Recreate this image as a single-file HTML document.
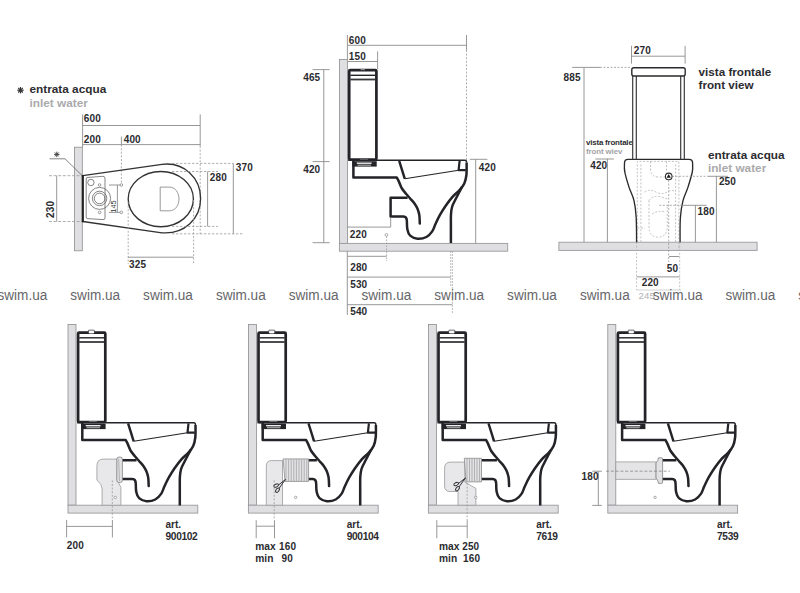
<!DOCTYPE html>
<html><head><meta charset="utf-8"><title>Toilet technical drawing</title>
<style>
html,body{margin:0;padding:0;background:#fff;}
body{width:800px;height:593px;overflow:hidden;}
svg{display:block;font-family:"Liberation Sans",sans-serif;}
</style></head>
<body>
<svg width="800" height="593" viewBox="0 0 800 593">
<defs><g id="toilet">
<rect x="349.2" y="70.2" width="27.2" height="89.3" rx="1" fill="#fff" stroke="#232328" stroke-width="2.7"/>
<line x1="350.3" y1="75.3" x2="375.3" y2="75.3" stroke="#232328" stroke-width="1.4"/>
<line x1="350.3" y1="79.5" x2="375.3" y2="79.5" stroke="#38383c" stroke-width="1.8"/>
<rect x="360" y="158.9" width="8" height="1" fill="#9a9a9a"/>
<rect x="352.3" y="161.2" width="24.4" height="5.4" fill="#232328"/>
<rect x="356.8" y="162.5" width="14.8" height="1.4" fill="#eeeeee"/>
<rect x="357.6" y="164.6" width="13.4" height="1.2" fill="#a4a4a4"/>
<path d="M348.2,160.3 H464.8 Q466.6,160.3 466.6,162.5" fill="none" stroke="#232328" stroke-width="1.5"/>
<path d="M353.4,160.6 V177.6 H396.8  C397.1,178.3 398.1,179.9 398.9,181.6 C399.7,183.3 400.5,186.0 401.6,188.0 C402.8,190.0 404.4,191.7 405.8,193.5 C407.2,195.3 408.9,197.1 410.3,198.7 C411.7,200.3 413.1,201.6 414.3,203.3 C415.5,205.0 416.7,206.9 417.5,208.8 C418.3,210.8 418.9,212.5 419.3,215.0 C419.7,217.5 419.7,222.2 419.8,223.6" fill="none" stroke="#232328" stroke-width="2.5" stroke-linecap="round" stroke-linejoin="round"/>
<path d="M407.6,197.7 H390.6 V216.4 H403.5 Q406.9,216.4 406.9,221.5  C407.0,222.8 406.8,227.1 407.4,229.4 C407.9,231.8 408.5,234.1 410.2,235.6 C411.9,237.1 414.9,238.5 417.6,238.7 C420.3,238.9 424.0,238.2 426.4,237.0 C428.8,235.8 430.7,233.6 432.2,231.4 C433.7,229.2 434.3,226.5 435.6,223.7 C436.9,220.9 438.4,217.7 440.1,214.7 C441.8,211.7 443.6,208.7 445.7,205.7 C447.8,202.7 450.2,199.4 452.5,196.8 C454.8,194.2 457.3,192.6 459.3,190.4 C461.3,188.2 463.1,186.0 464.3,183.4 C465.5,180.8 466.0,178.5 466.4,175.0 C466.8,171.5 466.6,164.6 466.6,162.5" fill="none" stroke="#232328" stroke-width="2.5" stroke-linejoin="round"/>
<path d="M462.0,186.8 C461.5,187.8 459.9,190.8 458.8,193.0 C457.7,195.2 456.3,197.8 455.2,200.0 C454.1,202.2 452.9,204.2 452.2,206.5 C451.5,208.8 451.2,211.1 451.0,214.0 C450.8,216.9 450.9,219.2 450.9,224.0 C450.9,228.8 450.9,239.8 450.9,243.0" fill="none" stroke="#232328" stroke-width="2.5"/>
<path d="M399.2,160.8 L404.8,178.8" fill="none" stroke="#232328" stroke-width="2.4"/>
<path d="M404.8,178.8 L458.6,170.2" fill="none" stroke="#232328" stroke-width="1.1"/>
<path d="M459.6,160.8 L458.6,170.2 H465.8" fill="none" stroke="#232328" stroke-width="2.2" stroke-linejoin="round"/>
</g></defs>
<rect width="800" height="593" fill="#fff"/>
<line x1="17.3" y1="90.2" x2="23.7" y2="90.2" stroke="#333" stroke-width="1.20" />
<line x1="18.2" y1="87.9" x2="22.8" y2="92.5" stroke="#333" stroke-width="1.20" />
<line x1="20.5" y1="87.0" x2="20.5" y2="93.4" stroke="#333" stroke-width="1.20" />
<line x1="22.8" y1="87.9" x2="18.2" y2="92.5" stroke="#333" stroke-width="1.20" />
<text x="29.5" y="93.2" font-size="11.80" fill="#2c2c30" font-weight="bold" letter-spacing="0.00" >entrata acqua</text>
<text x="29.5" y="106.9" font-size="11.80" fill="#aaaaac" font-weight="bold" letter-spacing="0.00" >inlet water</text>
<rect x="74.5" y="147.2" width="7.8" height="103.6" fill="#dfdfe2" stroke="#8e8e90" stroke-width="0.8"/>
<line x1="82.6" y1="114.4" x2="82.6" y2="147.2" stroke="#8c8c8c" stroke-width="0.90" />
<line x1="82.6" y1="125.5" x2="200.2" y2="125.5" stroke="#8c8c8c" stroke-width="0.90" />
<line x1="82.6" y1="144.6" x2="200.2" y2="144.6" stroke="#8c8c8c" stroke-width="0.90" />
<line x1="200.2" y1="114.4" x2="200.2" y2="146.0" stroke="#8c8c8c" stroke-width="0.90" />
<line x1="200.2" y1="146.0" x2="200.2" y2="234.0" stroke="#9a9a9a" stroke-width="0.80" stroke-dasharray="2 1.6" />
<text x="83.8" y="122.4" font-size="10.00" fill="#2b2b2f" font-weight="bold" letter-spacing="0.15" >600</text>
<text x="83.8" y="142.9" font-size="10.00" fill="#2b2b2f" font-weight="bold" letter-spacing="0.15" >200</text>
<text x="123.7" y="142.9" font-size="10.00" fill="#2b2b2f" font-weight="bold" letter-spacing="0.15" >400</text>
<line x1="121.4" y1="136.5" x2="121.4" y2="144.6" stroke="#8c8c8c" stroke-width="0.90" />
<line x1="121.4" y1="144.6" x2="121.4" y2="184.0" stroke="#9a9a9a" stroke-width="0.80" stroke-dasharray="2 1.6" />
<line x1="54.1" y1="154.4" x2="59.5" y2="154.4" stroke="#444" stroke-width="1.00" />
<line x1="54.9" y1="152.5" x2="58.7" y2="156.3" stroke="#444" stroke-width="1.00" />
<line x1="56.8" y1="151.7" x2="56.8" y2="157.1" stroke="#444" stroke-width="1.00" />
<line x1="58.7" y1="152.5" x2="54.9" y2="156.3" stroke="#444" stroke-width="1.00" />
<polyline points="49.5,158.8 65,158.8 82.2,175.6" fill="none" stroke="#666" stroke-width="0.8"/>
<line x1="49.0" y1="175.7" x2="82.0" y2="175.7" stroke="#9a9a9a" stroke-width="0.80" stroke-dasharray="3 1.6" />
<line x1="49.0" y1="221.5" x2="82.0" y2="221.5" stroke="#9a9a9a" stroke-width="0.80" stroke-dasharray="3 1.6" />
<line x1="56.7" y1="175.7" x2="56.7" y2="221.5" stroke="#8c8c8c" stroke-width="0.90" />
<text x="0.0" y="0.0" font-size="10.00" fill="#2b2b2f" font-weight="bold" letter-spacing="0.15" transform="translate(54.4,218) rotate(-90)">230</text>
<path d="M82.8,175.7 L162,164.3 C184,161.5 200.6,178 200.6,198.4 C200.6,219 184,234.5 162,232.8 L82.8,221.5" fill="none" stroke="#333" stroke-width="1.35"/>
<line x1="82.8" y1="175" x2="82.8" y2="222.2" stroke="#222" stroke-width="2.2"/>
<ellipse cx="160.8" cy="199.1" rx="32.6" ry="27.6" fill="none" stroke="#333" stroke-width="1.35"/>
<path d="M160.2,187.1 H169.5 C175.5,187.1 179,193 179,199 C179,205 175.5,210.8 169.5,210.8 H160.2 Z" fill="none" stroke="#8c8c8e" stroke-width="0.9"/>
<path d="M87,177.5 L103,176.3 Q105,176.3 105,178.3 V217.8 Q105,219.8 103,219.6 L87,218.6 Q86.2,218.5 86.2,217 V179 Q86.2,177.6 87,177.5 Z" fill="none" stroke="#666" stroke-width="0.8"/>
<circle cx="90.9" cy="182.5" r="3.2" fill="none" stroke="#666" stroke-width="0.8"/>
<circle cx="99.6" cy="198.4" r="11" fill="none" stroke="#666" stroke-width="0.8"/>
<circle cx="99.6" cy="198.4" r="7.2" fill="none" stroke="#666" stroke-width="0.8"/>
<circle cx="99.6" cy="198.4" r="5.3" fill="none" stroke="#666" stroke-width="0.8"/>
<circle cx="99.6" cy="185" r="1.3" fill="none" stroke="#777" stroke-width="0.7"/>
<circle cx="99.6" cy="212.4" r="1.3" fill="none" stroke="#777" stroke-width="0.7"/>
<line x1="109.0" y1="185.0" x2="120.0" y2="185.0" stroke="#8c8c8c" stroke-width="0.90" />
<line x1="109.0" y1="212.4" x2="120.0" y2="212.4" stroke="#8c8c8c" stroke-width="0.90" />
<line x1="117.4" y1="185.0" x2="117.4" y2="212.4" stroke="#8c8c8c" stroke-width="0.90" />
<circle cx="121.4" cy="185" r="1.3" fill="#fff" stroke="#777" stroke-width="0.7"/>
<circle cx="121.4" cy="212.4" r="1.3" fill="#fff" stroke="#777" stroke-width="0.7"/>
<text x="0.0" y="0.0" font-size="7.20" fill="#333" font-weight="normal" letter-spacing="0.00" transform="translate(116.2,212.5) rotate(-90)">145</text>
<line x1="172.0" y1="163.4" x2="233.3" y2="163.4" stroke="#9a9a9a" stroke-width="0.80" stroke-dasharray="2.4 1.6" />
<line x1="172.0" y1="171.5" x2="218.0" y2="171.5" stroke="#9a9a9a" stroke-width="0.80" stroke-dasharray="2.4 1.6" />
<line x1="172.0" y1="226.4" x2="218.0" y2="226.4" stroke="#9a9a9a" stroke-width="0.80" stroke-dasharray="2.4 1.6" />
<line x1="172.0" y1="233.8" x2="244.0" y2="233.8" stroke="#9a9a9a" stroke-width="0.80" stroke-dasharray="2.4 1.6" />
<line x1="207.6" y1="171.5" x2="207.6" y2="226.4" stroke="#8c8c8c" stroke-width="0.90" />
<line x1="233.3" y1="163.4" x2="233.3" y2="233.8" stroke="#8c8c8c" stroke-width="0.90" />
<text x="209.8" y="180.8" font-size="10.00" fill="#2b2b2f" font-weight="bold" letter-spacing="0.15" >280</text>
<text x="235.8" y="171.1" font-size="10.00" fill="#2b2b2f" font-weight="bold" letter-spacing="0.15" >370</text>
<line x1="128.2" y1="202.0" x2="128.2" y2="264.0" stroke="#9a9a9a" stroke-width="0.80" stroke-dasharray="2 1.6" />
<line x1="193.6" y1="200.0" x2="193.6" y2="264.0" stroke="#9a9a9a" stroke-width="0.80" stroke-dasharray="2 1.6" />
<line x1="128.2" y1="257.2" x2="193.6" y2="257.2" stroke="#8c8c8c" stroke-width="0.90" />
<text x="129.0" y="267.6" font-size="10.00" fill="#2b2b2f" font-weight="bold" letter-spacing="0.15" >325</text>
<rect x="339.4" y="59.4" width="8" height="184" fill="#dfdfe2" stroke="#8e8e90" stroke-width="0.8"/>
<rect x="339.4" y="243.4" width="168.3" height="7.8" fill="#dfdfe2" stroke="#9a9a9e" stroke-width="0.9"/>
<use href="#toilet"/>
<rect x="360.6" y="68.9" width="4.4" height="1.3" fill="#8a8a8c"/>
<line x1="347.4" y1="35.0" x2="347.4" y2="59.4" stroke="#8c8c8c" stroke-width="0.90" />
<line x1="347.4" y1="45.3" x2="466.5" y2="45.3" stroke="#8c8c8c" stroke-width="0.90" />
<line x1="466.5" y1="35.0" x2="466.5" y2="50.0" stroke="#8c8c8c" stroke-width="0.90" />
<line x1="466.5" y1="50.0" x2="466.5" y2="160.0" stroke="#9a9a9a" stroke-width="0.80" stroke-dasharray="2 1.6" />
<text x="348.8" y="44.1" font-size="10.00" fill="#2b2b2f" font-weight="bold" letter-spacing="0.15" >600</text>
<line x1="347.4" y1="61.5" x2="377.6" y2="61.5" stroke="#8c8c8c" stroke-width="0.90" />
<line x1="377.6" y1="51.4" x2="377.6" y2="69.0" stroke="#8c8c8c" stroke-width="0.90" />
<text x="348.8" y="60.2" font-size="10.00" fill="#2b2b2f" font-weight="bold" letter-spacing="0.15" >150</text>
<line x1="323.8" y1="69.6" x2="323.8" y2="242.7" stroke="#8c8c8c" stroke-width="0.90" />
<line x1="312.6" y1="69.6" x2="329.6" y2="69.6" stroke="#8c8c8c" stroke-width="0.90" />
<line x1="312.6" y1="161.6" x2="329.6" y2="161.6" stroke="#8c8c8c" stroke-width="0.90" />
<line x1="312.6" y1="242.7" x2="329.6" y2="242.7" stroke="#8c8c8c" stroke-width="0.90" />
<text x="303.2" y="80.7" font-size="10.00" fill="#2b2b2f" font-weight="bold" letter-spacing="0.15" >465</text>
<text x="303.2" y="173.2" font-size="10.00" fill="#2b2b2f" font-weight="bold" letter-spacing="0.15" >420</text>
<line x1="475.7" y1="159.3" x2="475.7" y2="243.4" stroke="#8c8c8c" stroke-width="0.90" />
<line x1="469.8" y1="159.3" x2="487.4" y2="159.3" stroke="#8c8c8c" stroke-width="0.90" />
<text x="478.8" y="171.2" font-size="10.00" fill="#2b2b2f" font-weight="bold" letter-spacing="0.15" >420</text>
<line x1="347.4" y1="227.1" x2="390.7" y2="227.1" stroke="#8c8c8c" stroke-width="0.90" />
<line x1="390.7" y1="217.5" x2="390.7" y2="227.1" stroke="#8c8c8c" stroke-width="0.90" />
<text x="349.8" y="238.0" font-size="10.00" fill="#2b2b2f" font-weight="bold" letter-spacing="0.15" >220</text>
<circle cx="386.4" cy="234.9" r="1.4" fill="#fff" stroke="#888" stroke-width="0.7"/>
<line x1="386.6" y1="236.4" x2="386.6" y2="261.1" stroke="#9a9a9a" stroke-width="0.80" stroke-dasharray="1.6 1.4" />
<line x1="347.3" y1="251.2" x2="347.3" y2="315.0" stroke="#8c8c8c" stroke-width="0.90" />
<line x1="347.3" y1="256.3" x2="386.6" y2="256.3" stroke="#8c8c8c" stroke-width="0.90" />
<text x="350.2" y="271.0" font-size="10.00" fill="#2b2b2f" font-weight="bold" letter-spacing="0.15" >280</text>
<line x1="347.3" y1="277.1" x2="450.7" y2="277.1" stroke="#8c8c8c" stroke-width="0.90" />
<line x1="450.7" y1="251.2" x2="450.7" y2="287.0" stroke="#9a9a9a" stroke-width="0.80" stroke-dasharray="1.6 1.4" />
<line x1="452.4" y1="251.2" x2="452.4" y2="314.0" stroke="#9a9a9a" stroke-width="0.80" stroke-dasharray="1.6 1.4" />
<text x="350.2" y="288.2" font-size="10.00" fill="#2b2b2f" font-weight="bold" letter-spacing="0.15" >530</text>
<line x1="347.3" y1="304.7" x2="452.4" y2="304.7" stroke="#8c8c8c" stroke-width="0.90" />
<text x="350.2" y="315.2" font-size="10.00" fill="#2b2b2f" font-weight="bold" letter-spacing="0.15" >540</text>
<rect x="558.9" y="242.2" width="198.2" height="8.2" fill="#dfdfe2" stroke="#9a9a9e" stroke-width="0.9"/>
<line x1="631.5" y1="45.8" x2="631.5" y2="63.6" stroke="#8c8c8c" stroke-width="0.90" />
<line x1="685.1" y1="45.8" x2="685.1" y2="63.6" stroke="#8c8c8c" stroke-width="0.90" />
<line x1="631.5" y1="56.2" x2="685.1" y2="56.2" stroke="#8c8c8c" stroke-width="0.90" />
<text x="633.8" y="54.3" font-size="10.00" fill="#2b2b2f" font-weight="bold" letter-spacing="0.15" >270</text>
<line x1="572.2" y1="67.4" x2="600.0" y2="67.4" stroke="#8c8c8c" stroke-width="0.90" />
<line x1="600.0" y1="67.4" x2="631.0" y2="67.4" stroke="#9a9a9a" stroke-width="0.80" stroke-dasharray="2 1.5" />
<line x1="584.0" y1="67.4" x2="584.0" y2="242.2" stroke="#8c8c8c" stroke-width="0.90" />
<text x="563.6" y="80.6" font-size="10.00" fill="#2b2b2f" font-weight="bold" letter-spacing="0.15" >885</text>
<text x="698.5" y="75.6" font-size="11.70" fill="#2c2c30" font-weight="bold" letter-spacing="0.00" >vista frontale</text>
<text x="698.5" y="89.4" font-size="11.70" fill="#2c2c30" font-weight="bold" letter-spacing="0.00" >front view</text>
<text x="586.0" y="145.2" font-size="7.90" fill="#2c2c30" font-weight="bold" letter-spacing="-0.18" >vista frontale</text>
<text x="586.0" y="153.6" font-size="7.90" fill="#a4a4a8" font-weight="bold" letter-spacing="-0.10" >front wiev</text>
<line x1="595.4" y1="159.0" x2="613.8" y2="159.0" stroke="#8c8c8c" stroke-width="0.90" />
<line x1="607.4" y1="158.8" x2="607.4" y2="242.2" stroke="#8c8c8c" stroke-width="0.90" />
<text x="590.2" y="168.7" font-size="10.00" fill="#2b2b2f" font-weight="bold" letter-spacing="0.15" >420</text>
<path d="M637.3,242 V161.4 H678.9 V242 M640.9,242 V163.5 M675.6,242 V163.5" fill="none" stroke="#b4b4b8" stroke-width="0.8" stroke-dasharray="2 1.6"/>
<path d="M650.5,161.4 V170 Q651,177 659,177 H665.3 M666.5,161.4 V172.6" fill="none" stroke="#b4b4b8" stroke-width="0.8" stroke-dasharray="2 1.6"/>
<path d="M649,200.6 V226 Q649,237.2 658.1,237.2 Q667.2,237.2 667.2,226 V206" fill="none" stroke="#b4b4b8" stroke-width="0.8" stroke-dasharray="2 1.6"/>
<path d="M644.4,192.2 Q650,188.5 656,192 Q662,195.5 668,191.5 Q672,189.5 675.6,191.5 M649,200.6 Q652,195.5 660,196.5 L667.2,199 M637.3,228 H645 M652,214 Q658,210 666,212" fill="none" stroke="#b4b4b8" stroke-width="0.8" stroke-dasharray="2 1.6"/>
<path d="M636.6,242 V290 M679.7,242 V290 M678.8,242 V250" fill="none" stroke="#b4b4b8" stroke-width="0.8" stroke-dasharray="2 1.6"/>
<path d="M624.5,163.0 C624.5,164.5 624.0,168.0 624.8,172.0 C625.5,176.0 627.5,182.3 629.0,187.1 C630.5,191.9 632.8,195.5 634.0,200.6 C635.2,205.7 635.8,210.6 636.2,217.5 C636.6,224.4 636.5,238.1 636.6,242.2" fill="none" stroke="#2a2a2e" stroke-width="1.35"/>
<path d="M692.6,163.0 C692.5,164.5 693.1,168.0 692.3,172.0 C691.5,176.0 689.5,182.3 688.0,187.1 C686.5,191.9 684.3,195.5 683.0,200.6 C681.7,205.7 680.9,210.6 680.4,217.5 C679.9,224.4 680.1,238.1 680.1,242.2" fill="none" stroke="#2a2a2e" stroke-width="1.35"/>
<path d="M624.5,163 Q624.5,159.3 628,159.3 H689 Q692.6,159.3 692.6,163" fill="none" stroke="#2a2a2e" stroke-width="1.35"/>
<line x1="632.7" y1="76.0" x2="632.7" y2="159.3" stroke="#3a3a3e" stroke-width="1.20" />
<line x1="636.3" y1="76.0" x2="636.3" y2="159.3" stroke="#3a3a3e" stroke-width="1.20" />
<line x1="680.7" y1="76.0" x2="680.7" y2="159.3" stroke="#3a3a3e" stroke-width="1.20" />
<line x1="684.3" y1="76.0" x2="684.3" y2="159.3" stroke="#3a3a3e" stroke-width="1.20" />
<rect x="631.8" y="67.7" width="53.4" height="8.3" rx="2" fill="#fff" stroke="#2a2a2e" stroke-width="1.4"/>
<line x1="672.0" y1="176.3" x2="707.5" y2="176.3" stroke="#9a9a9a" stroke-width="0.80" stroke-dasharray="2 1.5" />
<line x1="707.5" y1="176.3" x2="728.0" y2="176.3" stroke="#8c8c8c" stroke-width="0.90" />
<circle cx="668.7" cy="176.4" r="3.3" fill="#fff" stroke="#333" stroke-width="1.1"/>
<path d="M668.7,174.1 L670.8,177.8 H666.6 Z" fill="#1a1a1a"/>
<line x1="668.7" y1="180.0" x2="668.7" y2="262.0" stroke="#9a9a9a" stroke-width="0.80" stroke-dasharray="2 1.5" />
<line x1="716.4" y1="176.3" x2="716.4" y2="242.2" stroke="#8c8c8c" stroke-width="0.90" />
<text x="718.9" y="185.4" font-size="10.00" fill="#2b2b2f" font-weight="bold" letter-spacing="0.15" >250</text>
<line x1="659.3" y1="205.3" x2="680.5" y2="205.3" stroke="#9a9a9a" stroke-width="0.80" stroke-dasharray="2 1.5" />
<line x1="680.5" y1="205.3" x2="706.6" y2="205.3" stroke="#8c8c8c" stroke-width="0.90" />
<line x1="695.4" y1="205.3" x2="695.4" y2="242.2" stroke="#8c8c8c" stroke-width="0.90" />
<text x="697.6" y="214.6" font-size="10.00" fill="#2b2b2f" font-weight="bold" letter-spacing="0.15" >180</text>
<text x="707.9" y="158.5" font-size="11.80" fill="#2c2c30" font-weight="bold" letter-spacing="0.00" >entrata acqua</text>
<text x="707.9" y="171.9" font-size="11.80" fill="#aaaaac" font-weight="bold" letter-spacing="0.00" >inlet water</text>
<line x1="669.0" y1="256.5" x2="679.2" y2="256.5" stroke="#8c8c8c" stroke-width="0.90" />
<text x="666.8" y="271.6" font-size="10.00" fill="#2b2b2f" font-weight="bold" letter-spacing="0.15" >50</text>
<line x1="636.6" y1="276.9" x2="679.7" y2="276.9" stroke="#8c8c8c" stroke-width="0.90" />
<text x="641.7" y="285.8" font-size="10.00" fill="#2b2b2f" font-weight="bold" letter-spacing="0.15" >220</text>
<line x1="636.6" y1="290.0" x2="681.0" y2="290.0" stroke="#c8c8c8" stroke-width="0.80" />
<text x="638.6" y="299.4" font-size="9.60" fill="#b2b2b4" font-weight="normal" letter-spacing="0.10" >245</text>
<text transform="translate(-2.5,299.5) scale(1,1.12)" font-size="13.6" fill="#666669">swim.ua</text>
<text transform="translate(70.3,299.5) scale(1,1.12)" font-size="13.6" fill="#666669">swim.ua</text>
<text transform="translate(143.1,299.5) scale(1,1.12)" font-size="13.6" fill="#666669">swim.ua</text>
<text transform="translate(215.9,299.5) scale(1,1.12)" font-size="13.6" fill="#666669">swim.ua</text>
<text transform="translate(288.7,299.5) scale(1,1.12)" font-size="13.6" fill="#666669">swim.ua</text>
<text transform="translate(361.5,299.5) scale(1,1.12)" font-size="13.6" fill="#666669">swim.ua</text>
<text transform="translate(434.3,299.5) scale(1,1.12)" font-size="13.6" fill="#666669">swim.ua</text>
<text transform="translate(507.1,299.5) scale(1,1.12)" font-size="13.6" fill="#666669">swim.ua</text>
<text transform="translate(579.9,299.5) scale(1,1.12)" font-size="13.6" fill="#666669">swim.ua</text>
<text transform="translate(652.7,299.5) scale(1,1.12)" font-size="13.6" fill="#666669">swim.ua</text>
<text transform="translate(725.5,299.5) scale(1,1.12)" font-size="13.6" fill="#666669">swim.ua</text>
<text transform="translate(798.3,299.5) scale(1,1.12)" font-size="13.6" fill="#666669">swim.ua</text>
<rect x="68.0" y="324.5" width="8" height="180.7" fill="#dfdfe2" stroke="#8e8e90" stroke-width="0.8"/>
<rect x="68.0" y="505.2" width="129.8" height="7.9" fill="#dfdfe2" stroke="#9a9a9e" stroke-width="0.9"/>
<use href="#toilet" transform="translate(-271.1,262.5)"/>
<g transform="translate(-271.1,262.5)"><path d="M359.5,70.4 V68.3 Q359.5,67.7 360.1,67.7 H364.9 Q365.5,67.7 365.5,68.3 V70.4" fill="#fff" stroke="#3a3a3e" stroke-width="0.9"/><rect x="360.2" y="69.0" width="4.6" height="1.9" fill="#fff"/><line x1="360.2" y1="68.1" x2="364.8" y2="68.1" stroke="#aaa" stroke-width="0.8"/></g>
<rect x="248.4" y="324.5" width="8" height="180.7" fill="#dfdfe2" stroke="#8e8e90" stroke-width="0.8"/>
<rect x="248.4" y="505.2" width="129.8" height="7.9" fill="#dfdfe2" stroke="#9a9a9e" stroke-width="0.9"/>
<use href="#toilet" transform="translate(-90.7,262.5)"/>
<g transform="translate(-90.7,262.5)"><path d="M359.5,70.4 V68.3 Q359.5,67.7 360.1,67.7 H364.9 Q365.5,67.7 365.5,68.3 V70.4" fill="#fff" stroke="#3a3a3e" stroke-width="0.9"/><rect x="360.2" y="69.0" width="4.6" height="1.9" fill="#fff"/><line x1="360.2" y1="68.1" x2="364.8" y2="68.1" stroke="#aaa" stroke-width="0.8"/></g>
<rect x="428.4" y="324.5" width="8" height="180.7" fill="#dfdfe2" stroke="#8e8e90" stroke-width="0.8"/>
<rect x="428.4" y="505.2" width="129.8" height="7.9" fill="#dfdfe2" stroke="#9a9a9e" stroke-width="0.9"/>
<use href="#toilet" transform="translate(89.3,262.5)"/>
<g transform="translate(89.3,262.5)"><path d="M359.5,70.4 V68.3 Q359.5,67.7 360.1,67.7 H364.9 Q365.5,67.7 365.5,68.3 V70.4" fill="#fff" stroke="#3a3a3e" stroke-width="0.9"/><rect x="360.2" y="69.0" width="4.6" height="1.9" fill="#fff"/><line x1="360.2" y1="68.1" x2="364.8" y2="68.1" stroke="#aaa" stroke-width="0.8"/></g>
<rect x="607.8" y="324.5" width="8" height="180.7" fill="#dfdfe2" stroke="#8e8e90" stroke-width="0.8"/>
<rect x="607.8" y="505.2" width="129.8" height="7.9" fill="#dfdfe2" stroke="#9a9a9e" stroke-width="0.9"/>
<use href="#toilet" transform="translate(268.7,262.5)"/>
<g transform="translate(268.7,262.5)"><path d="M359.5,70.4 V68.3 Q359.5,67.7 360.1,67.7 H364.9 Q365.5,67.7 365.5,68.3 V70.4" fill="#fff" stroke="#3a3a3e" stroke-width="0.9"/><rect x="360.2" y="69.0" width="4.6" height="1.9" fill="#fff"/><line x1="360.2" y1="68.1" x2="364.8" y2="68.1" stroke="#aaa" stroke-width="0.8"/></g>
<path d="M96.9,480 V466 Q96.9,459.1 103.5,459.1 H117.3 V480.4 L120.9,487.4 V505.2 H102.1 V489 Q102.1,484.5 96.9,480 Z" fill="#e8e8ea" stroke="#9a9a9c" stroke-width="0.8"/>
<rect x="116.8" y="457.1" width="5.6" height="25.3" rx="2" fill="#e2e2e4" stroke="#808082" stroke-width="0.8"/>
<line x1="118.6" y1="459.0" x2="119.5" y2="481.0" stroke="#909092" stroke-width="0.60" />
<line x1="112.3" y1="480.4" x2="112.3" y2="520.0" stroke="#9a9a9a" stroke-width="0.80" stroke-dasharray="2 1.6" />
<path d="M266.3,505.2 V466 Q266.3,460.6 271.5,460.6 H282.5 V505.2 Z" fill="#e8e8ea" stroke="#9a9a9c" stroke-width="0.8"/>
<path d="M283.1,458.9 H308.6 V481.4 H285 Z" fill="#e2e2e4" stroke="#8a8a8c" stroke-width="0.8"/>
<line x1="286.0" y1="459.2" x2="286.0" y2="481.1" stroke="#9c9c9e" stroke-width="0.70" />
<line x1="288.6" y1="459.2" x2="288.6" y2="481.1" stroke="#9c9c9e" stroke-width="0.70" />
<line x1="291.2" y1="459.2" x2="291.2" y2="481.1" stroke="#9c9c9e" stroke-width="0.70" />
<line x1="293.8" y1="459.2" x2="293.8" y2="481.1" stroke="#9c9c9e" stroke-width="0.70" />
<line x1="296.4" y1="459.2" x2="296.4" y2="481.1" stroke="#9c9c9e" stroke-width="0.70" />
<line x1="299.0" y1="459.2" x2="299.0" y2="481.1" stroke="#9c9c9e" stroke-width="0.70" />
<line x1="301.6" y1="459.2" x2="301.6" y2="481.1" stroke="#9c9c9e" stroke-width="0.70" />
<line x1="304.2" y1="459.2" x2="304.2" y2="481.1" stroke="#9c9c9e" stroke-width="0.70" />
<line x1="306.8" y1="459.2" x2="306.8" y2="481.1" stroke="#9c9c9e" stroke-width="0.70" />
<line x1="274.2" y1="480.4" x2="274.2" y2="520.0" stroke="#9a9a9a" stroke-width="0.80" stroke-dasharray="2 1.6" />
<path d="M444.6,468 Q444.6,462.1 450.5,462.1 H464.8 V482 L475.9,488.4 V505.2 H458 V491.5 H450 Q444.6,491.5 444.6,486 Z" fill="#e8e8ea" stroke="#9a9a9c" stroke-width="0.8"/>
<path d="M464.3,458.3 H481.5 V481.9 H466 Z" fill="#e2e2e4" stroke="#8a8a8c" stroke-width="0.8"/>
<line x1="467.0" y1="458.6" x2="467.0" y2="481.6" stroke="#9c9c9e" stroke-width="0.70" />
<line x1="469.5" y1="458.6" x2="469.5" y2="481.6" stroke="#9c9c9e" stroke-width="0.70" />
<line x1="472.0" y1="458.6" x2="472.0" y2="481.6" stroke="#9c9c9e" stroke-width="0.70" />
<line x1="474.5" y1="458.6" x2="474.5" y2="481.6" stroke="#9c9c9e" stroke-width="0.70" />
<line x1="477.0" y1="458.6" x2="477.0" y2="481.6" stroke="#9c9c9e" stroke-width="0.70" />
<line x1="479.5" y1="458.6" x2="479.5" y2="481.6" stroke="#9c9c9e" stroke-width="0.70" />
<line x1="467.1" y1="483.0" x2="467.1" y2="520.0" stroke="#9a9a9a" stroke-width="0.80" stroke-dasharray="2 1.6" />
<g transform="translate(279.7,486.4) scale(1.1)" fill="none" stroke="#2a2a2e" stroke-width="0.85"><ellipse cx="-3.2" cy="-0.8" rx="2.3" ry="1.3" transform="rotate(-25 -3.2 -0.8)"/><ellipse cx="-2.0" cy="3.4" rx="2.3" ry="1.3" transform="rotate(-55 -2.0 3.4)"/><path d="M-1.2,-1.2 L5.5,-6.5 M-0.6,1.8 L5,-6"/></g>
<g transform="translate(459.7,484.9) scale(1.1)" fill="none" stroke="#2a2a2e" stroke-width="0.85"><ellipse cx="-3.2" cy="-0.8" rx="2.3" ry="1.3" transform="rotate(-25 -3.2 -0.8)"/><ellipse cx="-2.0" cy="3.4" rx="2.3" ry="1.3" transform="rotate(-55 -2.0 3.4)"/><path d="M-1.2,-1.2 L5.5,-6.5 M-0.6,1.8 L5,-6"/></g>
<rect x="615.8" y="461.9" width="40.3" height="17.4" fill="#e4e4e6" stroke="#9a9a9c" stroke-width="0.8"/>
<path d="M656,463 Q658,461 658.5,457.8 H661.8 Q662.6,457.8 662.6,459 V482 Q662.6,483.4 661.8,483.4 H658.5 Q658,480 656,478 Z" fill="#e2e2e4" stroke="#808082" stroke-width="0.8"/>
<line x1="606.0" y1="471.2" x2="669.9" y2="471.2" stroke="#888" stroke-width="0.80" stroke-dasharray="3 1.8" />
<line x1="598.3" y1="471.2" x2="598.3" y2="505.4" stroke="#8c8c8c" stroke-width="0.90" />
<line x1="592.3" y1="471.2" x2="601.9" y2="471.2" stroke="#8c8c8c" stroke-width="0.90" />
<line x1="592.3" y1="505.4" x2="601.9" y2="505.4" stroke="#8c8c8c" stroke-width="0.90" />
<text x="581.5" y="480.4" font-size="10.00" fill="#2b2b2f" font-weight="bold" letter-spacing="0.15" >180</text>
<circle cx="115.3" cy="497.4" r="1.2" fill="#fff" stroke="#888" stroke-width="0.7"/>
<circle cx="295.7" cy="497.4" r="1.2" fill="#fff" stroke="#888" stroke-width="0.7"/>
<circle cx="475.7" cy="497.4" r="1.2" fill="#fff" stroke="#888" stroke-width="0.7"/>
<circle cx="655.1" cy="497.4" r="1.2" fill="#fff" stroke="#888" stroke-width="0.7"/>
<line x1="66.6" y1="520.0" x2="66.6" y2="537.4" stroke="#8c8c8c" stroke-width="0.90" />
<line x1="112.4" y1="520.0" x2="112.4" y2="537.4" stroke="#8c8c8c" stroke-width="0.90" />
<line x1="66.6" y1="526.4" x2="112.4" y2="526.4" stroke="#8c8c8c" stroke-width="0.90" />
<text x="66.8" y="549.4" font-size="10.00" fill="#2b2b2f" font-weight="bold" letter-spacing="0.15" >200</text>
<line x1="256.2" y1="520.2" x2="256.2" y2="538.2" stroke="#8c8c8c" stroke-width="0.90" />
<line x1="274.5" y1="520.2" x2="274.5" y2="538.2" stroke="#8c8c8c" stroke-width="0.90" />
<line x1="256.2" y1="526.2" x2="274.5" y2="526.2" stroke="#8c8c8c" stroke-width="0.90" />
<text x="255.3" y="549.8" font-size="10.20" fill="#2b2b2f" font-weight="bold" letter-spacing="0.00" >max</text>
<text x="279.1" y="549.8" font-size="10.00" fill="#2b2b2f" font-weight="bold" letter-spacing="0.15" >160</text>
<text x="255.3" y="561.8" font-size="10.20" fill="#2b2b2f" font-weight="bold" letter-spacing="0.00" >min</text>
<text x="281.5" y="561.8" font-size="10.00" fill="#2b2b2f" font-weight="bold" letter-spacing="0.15" >90</text>
<line x1="436.8" y1="520.2" x2="436.8" y2="538.2" stroke="#8c8c8c" stroke-width="0.90" />
<line x1="467.2" y1="520.2" x2="467.2" y2="538.2" stroke="#8c8c8c" stroke-width="0.90" />
<line x1="436.8" y1="526.2" x2="467.2" y2="526.2" stroke="#8c8c8c" stroke-width="0.90" />
<text x="439.0" y="549.8" font-size="10.20" fill="#2b2b2f" font-weight="bold" letter-spacing="0.00" >max</text>
<text x="462.2" y="549.8" font-size="10.00" fill="#2b2b2f" font-weight="bold" letter-spacing="0.15" >250</text>
<text x="439.0" y="561.8" font-size="10.20" fill="#2b2b2f" font-weight="bold" letter-spacing="0.00" >min</text>
<text x="463.0" y="561.8" font-size="10.00" fill="#2b2b2f" font-weight="bold" letter-spacing="0.15" >160</text>
<text x="165.5" y="528.4" font-size="10.00" fill="#2b2b2f" font-weight="bold" letter-spacing="0.00" >art.</text>
<text x="165.5" y="539.6" font-size="10.20" fill="#2b2b2f" font-weight="bold" letter-spacing="-0.35" >900102</text>
<text x="346.7" y="528.4" font-size="10.00" fill="#2b2b2f" font-weight="bold" letter-spacing="0.00" >art.</text>
<text x="346.7" y="539.6" font-size="10.20" fill="#2b2b2f" font-weight="bold" letter-spacing="-0.35" >900104</text>
<text x="536.3" y="528.4" font-size="10.00" fill="#2b2b2f" font-weight="bold" letter-spacing="0.00" >art.</text>
<text x="536.3" y="539.6" font-size="10.20" fill="#2b2b2f" font-weight="bold" letter-spacing="-0.35" >7619</text>
<text x="717.0" y="528.4" font-size="10.00" fill="#2b2b2f" font-weight="bold" letter-spacing="0.00" >art.</text>
<text x="717.0" y="539.6" font-size="10.20" fill="#2b2b2f" font-weight="bold" letter-spacing="-0.35" >7539</text>
</svg>
</body></html>
